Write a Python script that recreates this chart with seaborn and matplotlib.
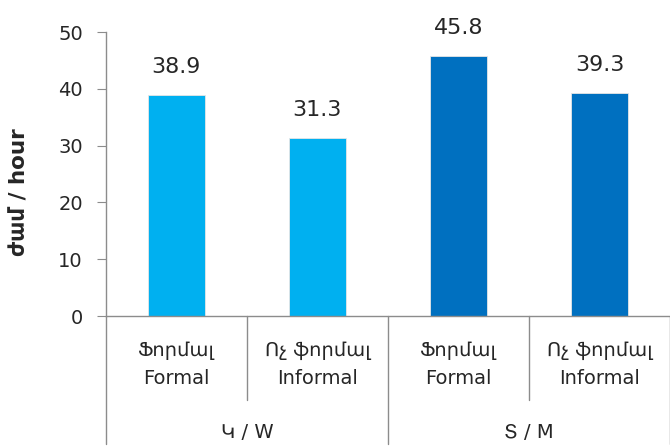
import matplotlib
matplotlib.use("Agg")
import matplotlib.pyplot as plt
import seaborn as sns
import pandas as pd

# data
categories = ["W Formal", "W Informal", "M Formal", "M Informal"]
tick_labels = ["Ֆորմալ\nFormal", "Ոչ ֆորմալ\nInformal", "Ֆորմալ\nFormal", "Ոչ ֆորմալ\nInformal"]
hours = [38.9, 31.3, 45.8, 39.3]
group_names = ["Կ / W", "Տ / M"]
colors = ["#00B0F0", "#00B0F0", "#0070C0", "#0070C0"]

sns.set_style("white")
plt.rcParams["font.family"] = ["DejaVu Sans"]
text_col = "#262626"
axis_col = "#8C8C8C"

df = pd.DataFrame({"cat": categories, "hours": hours})

fig = plt.figure(figsize=(6.7, 4.47), dpi=100)
ax = fig.add_axes([0.158, 0.293, 0.842, 0.635])

sns.barplot(data=df, x="cat", y="hours", hue="cat", palette=colors,
            width=0.4, legend=False, ax=ax, edgecolor="#E6E6E6", linewidth=0.6,
            saturation=1)

for p, v in zip(ax.patches, hours):
    ax.annotate(f"{v:.1f}", (p.get_x() + p.get_width() / 2, p.get_height()),
                xytext=(0, 13), textcoords="offset points",
                ha="center", va="bottom", fontsize=16, color=text_col)

ax.set_ylim(0, 50)
ax.set_xlim(-0.5, 3.5)
ax.set_yticks(range(0, 51, 10))
ax.set_xticks(range(len(tick_labels)))
ax.set_xticklabels(tick_labels, linespacing=1.6)
ax.tick_params(axis="y", labelsize=14, colors=text_col, length=6.5, color=axis_col,
               direction="out", left=True, pad=10)
ax.tick_params(axis="x", labelsize=14, colors=text_col, length=0, pad=18)
ax.set_xlabel("")
ax.set_ylabel("")

for side in ["top", "right"]:
    ax.spines[side].set_visible(False)
for side in ["left", "bottom"]:
    ax.spines[side].set_color(axis_col)
    ax.spines[side].set_linewidth(1)

# category dividers under the axis
trans = ax.get_xaxis_transform()
for i, xpos in enumerate([-0.5, 0.5, 1.5, 2.5, 3.5]):
    bottom = -0.45 if i in (0, 2, 4) else -0.295
    ax.plot([xpos, xpos], [0, bottom], transform=trans, color=axis_col,
            lw=1, clip_on=False)

# group labels
for gi, name in enumerate(group_names):
    ax.text(gi * 2 + 0.5, -0.41, name, transform=trans, ha="center", va="center",
            fontsize=14, color=text_col)

fig.text(0.029, 0.57, "ժամ / hour", rotation=90, ha="center", va="center",
         fontsize=15.5, fontweight="bold", color=text_col)

fig.savefig("out.png", dpi=100)
